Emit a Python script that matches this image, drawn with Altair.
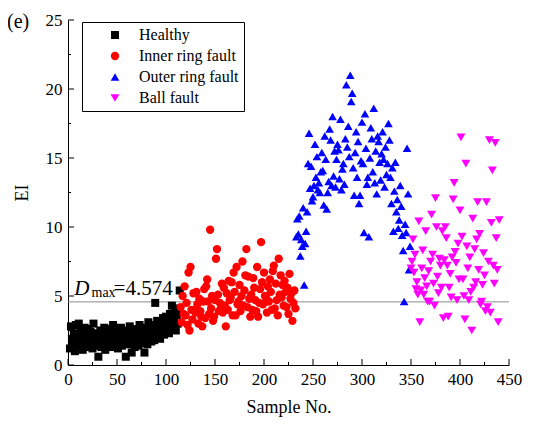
import altair as alt
import pandas as pd

# ---------------- data ----------------
healthy_start = 2
healthy = [1.2, 2.8, 1.9, 1.5, 2.3, 1.0, 2.9, 1.7, 2.1, 3.0,
           1.4, 2.5, 1.8, 1.1, 2.2, 2.7, 1.6, 1.3, 2.0, 2.6,
           1.5, 2.4, 1.9, 1.2, 3.0, 2.1, 1.7, 1.4, 2.3, 0.6,
           1.8, 2.5, 1.3, 2.0, 1.6, 2.7, 1.1, 2.2, 1.9, 1.4,
           2.6, 1.7, 2.1, 1.3, 2.9, 1.8, 2.4, 1.5, 2.0, 1.2,
           2.3, 1.9, 2.7, 1.4, 2.1, 1.6, 2.5, 0.6, 1.9, 2.2,
           1.5, 2.8, 1.7, 0.9, 2.4, 2.0, 1.3, 2.6, 1.8, 2.2,
           1.4, 2.9, 2.1, 1.6, 2.5, 1.9, 0.9, 2.7, 2.3, 1.5,
           3.1, 2.0, 2.6, 1.7, 2.9, 2.2, 1.8, 4.5, 2.4, 3.2,
           2.1, 2.7, 1.9, 3.0, 2.5, 3.4, 2.2, 2.8, 3.5, 2.6,
           3.1, 2.3, 3.7, 2.9, 4.3, 2.7, 3.3, 3.9, 2.5, 3.6,
           3.0, 4.1, 5.4]

inner_start = 115
inner = [4.2, 3.1, 5.0, 3.7, 5.7, 3.6, 4.5, 2.9, 6.7, 2.5,
         7.1, 4.0, 3.3, 5.2, 4.0, 3.8, 5.3, 4.4, 3.0, 4.8,
         3.9, 3.5, 2.8, 4.6, 5.5, 3.4, 5.7, 6.2, 4.6, 3.7,
         9.8, 4.1, 5.0, 3.2, 3.5, 4.7, 7.7, 8.4, 5.1, 3.9,
         4.5, 4.1, 5.9, 3.8, 5.6, 4.3, 2.8, 5.2, 4.0, 6.1,
         4.7, 4.9, 6.0, 3.6, 6.7, 5.3, 3.6, 7.1, 4.4, 4.6,
         5.8, 3.9, 5.0, 7.5, 4.3, 5.4, 6.5, 8.4, 4.2, 6.4,
         4.8, 3.5, 5.1, 4.0, 6.3, 5.6, 4.7, 3.9, 7.1, 3.5,
         4.5, 5.5, 8.9, 6.0, 4.4, 6.7, 5.0, 4.9, 3.8, 5.7,
         4.6, 6.2, 5.3, 4.0, 6.8, 7.2, 4.1, 5.9, 4.7, 3.6,
         7.7, 5.1, 6.5, 4.9, 5.8, 4.3, 6.1, 5.3, 4.2, 5.6,
         3.7, 6.6, 4.8, 5.2, 3.2, 4.5, 5.4, 4.1]

outer_start = 233
outer = [9.3, 10.6, 9.5, 10.8, 7.9, 9.1, 8.6, 11.4, 5.8, 8.8,
         9.7, 11.1, 14.6, 16.8, 12.8, 14.4, 11.9, 12.2, 13.0, 16.0,
         13.6, 15.1, 12.7, 13.2, 12.5, 14.0, 15.4, 14.1, 11.6, 16.6,
         14.9, 11.3, 12.5, 13.3, 17.1, 16.3, 13.0, 18.0, 13.7, 15.5,
         12.9, 14.9, 16.0, 15.6, 13.5, 17.8, 12.7, 14.2, 14.6, 13.1,
         16.4, 20.3, 15.8, 17.3, 15.1, 21.0, 19.1, 19.7, 14.3, 12.3,
         15.4, 16.9, 13.6, 16.2, 11.7, 12.3, 14.8, 17.6, 14.6, 9.6,
         18.2, 15.7, 13.1, 13.6, 9.3, 15.0, 17.2, 16.4, 14.0, 18.6,
         13.2, 15.5, 12.4, 16.6, 16.2, 14.7, 13.4, 15.3, 16.9, 14.9,
         12.9, 15.8, 13.8, 14.6, 17.5, 16.3, 13.6, 11.7, 14.3, 9.7,
         12.6, 14.7, 11.1, 12.0, 9.9, 10.5, 13.0, 11.5, 9.4, 8.3,
         4.6, 10.2, 9.6, 15.7, 12.4, 6.9, 8.6]

ball_start = 350
ball = [7.0, 7.5, 9.1, 6.7, 8.0, 5.5, 6.0, 5.1, 10.4, 3.1,
        5.4, 7.0, 8.3, 5.1, 6.3, 9.7, 5.7, 4.6, 6.8, 4.6,
        7.5, 10.9, 8.0, 5.9, 4.3, 12.1, 10.0, 6.4, 5.2, 7.7,
        7.2, 5.6, 9.7, 3.4, 7.6, 10.0, 9.2, 7.2, 3.5, 5.6,
        6.6, 4.9, 7.8, 12.0, 13.2, 8.2, 7.4, 4.7, 8.8, 6.2,
        11.2, 16.5, 9.3, 6.2, 5.0, 3.3, 14.6, 8.6, 7.0, 4.7,
        7.8, 5.3, 2.5, 10.6, 5.6, 8.4, 6.0, 9.1, 11.8, 6.9,
        9.5, 4.4, 4.6, 5.8, 8.1, 6.5, 3.9, 11.8, 4.2, 7.5,
        16.3, 3.8, 10.3, 14.1, 7.2, 5.9, 16.1, 9.2, 6.9, 3.1,
        10.5]

series_names = ["Healthy", "Inner ring fault", "Outer ring fault", "Ball fault"]
series_colors = ["#000000", "#FF0000", "#0000FF", "#FF00FF"]
series_shapes = ["square", "circle", "triangle-up", "triangle-down"]
series_sizes = [64, 80, 90, 90]

x_major = [0, 50, 100, 150, 200, 250, 300, 350, 400, 450]
x_minor = [25, 75, 125, 175, 225, 275, 325, 375, 425]
y_major = [0, 5, 10, 15, 20, 25]
y_minor = [2.5, 7.5, 12.5, 17.5, 22.5]

d_max = 4.574
label_D = "D"
label_sub = "max"
label_val = "=4.574"
panel_label = "(e)"

# ---------------- table ----------------
rows = []
for name, start, vals in zip(series_names,
                             [healthy_start, inner_start, outer_start, ball_start],
                             [healthy, inner, outer, ball]):
    for i, v in enumerate(vals):
        rows.append({"x": start + i, "y": v, "class": name})
df = pd.DataFrame(rows)

W, H = 441, 345
FONT = "Liberation Serif, Times New Roman, Times, serif"

xscale = alt.Scale(domain=[0, 450], nice=False, zero=False)
yscale = alt.Scale(domain=[0, 25], nice=False, zero=False)
xaxis = alt.Axis(values=x_major, title="Sample No.", titlePadding=11, labelFlush=False)
yaxis = alt.Axis(values=y_major, title="EI", titlePadding=14, labelFlush=False)


def X():
    return alt.X("x:Q", scale=xscale, axis=xaxis, title="Sample No.")


def Y():
    return alt.Y("y:Q", scale=yscale, axis=yaxis, title="EI")


base_line = alt.Chart(pd.DataFrame({"y": [d_max]})).mark_rule(
    color="#8a8a8a", strokeWidth=1
).encode(y=Y(), x=alt.value(0), x2=alt.value(W))

points = alt.Chart(df).mark_point(filled=True, opacity=1, strokeWidth=0).encode(
    x=X(), y=Y(),
    color=alt.Color("class:N", scale=alt.Scale(domain=series_names, range=series_colors),
                    legend=alt.Legend(title=None)),
    shape=alt.Shape("class:N", scale=alt.Scale(domain=series_names, range=series_shapes),
                    legend=alt.Legend(title=None)),
    size=alt.Size("class:N", scale=alt.Scale(domain=series_names, range=series_sizes),
                  legend=alt.Legend(title=None)),
)


def xticks(vals, length):
    return alt.Chart(pd.DataFrame({"x": vals})).mark_rule(color="black", strokeWidth=1).encode(
        x=X(), y=alt.value(H), y2=alt.value(H - length))


def yticks(vals, length):
    return alt.Chart(pd.DataFrame({"y": vals})).mark_rule(color="black", strokeWidth=1).encode(
        y=Y(), x=alt.value(0), x2=alt.value(length))


def label(xv, yv, text, size, style="normal"):
    return alt.Chart(pd.DataFrame({"x": [xv], "y": [yv], "t": [text]})).mark_text(
        font=FONT, fontSize=size, fontStyle=style, align="left",
        baseline="alphabetic", color="black"
    ).encode(x=X(), y=Y(), text="t:N")


t_D = label(6.5, 5.1, label_D, 21, "italic")
t_sub = label(24.0, 4.9, label_sub, 14)
t_val = label(46.5, 5.1, label_val, 21)

t_panel = alt.Chart(pd.DataFrame({"t": [panel_label]})).mark_text(
    font=FONT, fontSize=20, align="left", baseline="alphabetic", color="black"
).encode(x=alt.value(-61), y=alt.value(8), text="t:N")

chart = alt.layer(
    base_line, points,
    xticks(x_major, 6), xticks(x_minor, 3), yticks(y_major, 6), yticks(y_minor, 3),
    t_D, t_sub, t_val, t_panel
).properties(
    width=W, height=H,
    autosize=alt.AutoSizeParams(type="none"),
    padding={"left": 60, "top": 12, "right": 29, "bottom": 56},
).configure_view(stroke=None).configure_axis(
    grid=False, ticks=False, domainColor="black", domainWidth=1,
    labelFont=FONT, labelFontSize=17, labelColor="black", labelPadding=6,
    titleFont=FONT, titleFontSize=18, titleFontWeight="normal", titleColor="black",
).configure_legend(
    orient="none", legendX=14, legendY=2,
    strokeColor="black", fillColor="white", padding=5,
    labelFont=FONT, labelFontSize=16, labelColor="black",
    symbolOffset=20, labelOffset=16, rowPadding=5,
    symbolStrokeWidth=0,
)

chart.save("out.html", embed_options={"renderer": "svg", "actions": False})
